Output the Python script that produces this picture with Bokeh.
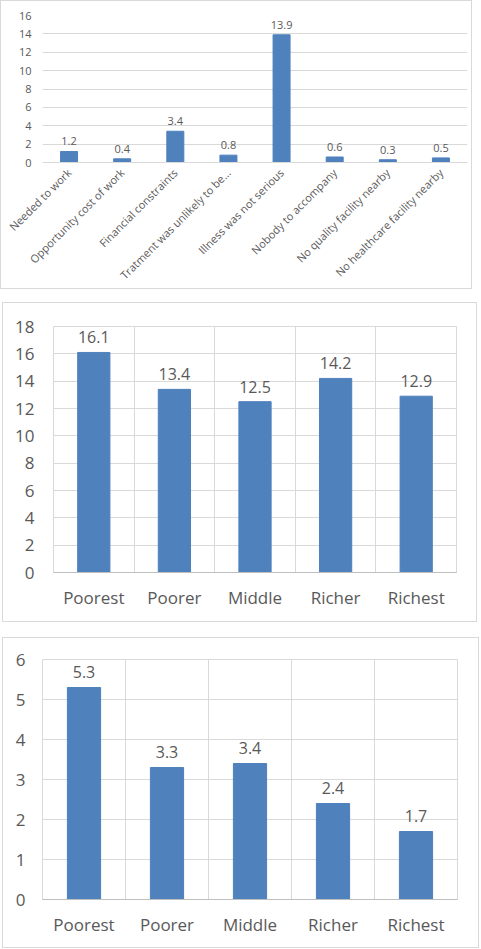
import math
from bokeh.plotting import figure
from bokeh.models import ColumnDataSource, FactorRange, Range1d, FixedTicker
from bokeh.core.properties import value
from bokeh.embed import file_html
from bokeh.resources import INLINE

# ---------------- data ----------------
reasons = [
    "Needed to work",
    "Opportunity cost of work",
    "Financial constraints",
    "Tratment was unlikely to be...",
    "Illness was not serious",
    "Nobody to accompany",
    "No quality facility nearby",
    "No healthcare facility nearby",
]
reason_values = [1.2, 0.4, 3.4, 0.8, 13.9, 0.6, 0.3, 0.5]
reason_ticks = [0, 2, 4, 6, 8, 10, 12, 14, 16]

quintiles = ["Poorest", "Poorer", "Middle", "Richer", "Richest"]
quintile_values_a = [16.1, 13.4, 12.5, 14.2, 12.9]
quintile_ticks_a = [0, 2, 4, 6, 8, 10, 12, 14, 16, 18]
quintile_values_b = [5.3, 3.3, 3.4, 2.4, 1.7]
quintile_ticks_b = [0, 1, 2, 3, 4, 5, 6]

BAR = "#4F81BD"
TXT = "#595959"
GRID = "#D9D9D9"
FONT = "Open Sans"
BORDER = {"border": "1px solid #D9D9D9", "box-sizing": "border-box"}


def clean_axis(ax, size, standoff):
    ax.major_tick_line_color = None
    ax.minor_tick_line_color = None
    ax.major_tick_out = 0
    ax.major_tick_in = 0
    ax.minor_tick_out = 0
    ax.minor_tick_in = 0
    ax.major_label_standoff = standoff
    ax.major_label_text_font = FONT
    ax.major_label_text_font_size = size
    ax.major_label_text_color = TXT


# ---------------- chart 1 ----------------
src1 = ColumnDataSource(dict(x=reasons, top=reason_values,
                             lab=[f"{v:.1f}" for v in reason_values]))
p1 = figure(x_range=FactorRange(*reasons), y_range=Range1d(0, reason_ticks[-1]),
            width=472, height=289,
            output_backend="svg", toolbar_location=None,
            min_border_left=41, min_border_right=6, min_border_top=14,
            min_border_bottom=127, styles=BORDER, margin=(0, 0, 0, 0))
p1.vbar(x="x", top="top", width=0.32, source=src1, color=BAR)
p1.text(x="x", y="top", text="lab", source=src1, text_align="center",
        text_baseline="alphabetic", y_offset=-10, text_font=value(FONT),
        text_font_size="11px", text_color=TXT)
p1.outline_line_color = None
p1.xgrid.visible = False
p1.ygrid.ticker = FixedTicker(ticks=reason_ticks)
p1.ygrid.grid_line_color = GRID
p1.yaxis.ticker = FixedTicker(ticks=reason_ticks)
p1.yaxis.axis_line_color = None
clean_axis(p1.yaxis, "11px", 11)
p1.xaxis.axis_line_color = GRID
p1.xaxis.major_label_orientation = math.pi / 4
clean_axis(p1.xaxis, "11px", 8)


# ---------------- charts 2 & 3 ----------------
def quintile_chart(vals, ticks, w, h, left, right, top, bottom,
                   label_off, ystand, margin):
    xs = [i + 0.5 for i in range(len(quintiles))]
    src = ColumnDataSource(dict(x=xs, top=vals, lab=[f"{v:.1f}" for v in vals]))
    p = figure(x_range=Range1d(0, len(quintiles)), y_range=Range1d(0, ticks[-1]),
               width=w, height=h, output_backend="svg",
               toolbar_location=None, min_border_left=left, min_border_right=right,
               min_border_top=top, min_border_bottom=bottom, styles=BORDER,
               margin=margin)
    p.vbar(x="x", top="top", width=0.4, source=src, color=BAR)
    p.text(x="x", y="top", text="lab", source=src, text_align="center",
           text_baseline="alphabetic", y_offset=-label_off, text_font=value(FONT),
           text_font_size="16px", text_color=TXT)
    p.outline_line_color = GRID
    p.xgrid.ticker = FixedTicker(ticks=list(range(len(quintiles) + 1)))
    p.xgrid.grid_line_color = GRID
    p.ygrid.ticker = FixedTicker(ticks=ticks)
    p.ygrid.grid_line_color = GRID
    p.xaxis.ticker = FixedTicker(ticks=xs)
    p.xaxis.major_label_overrides = {x: q for x, q in zip(xs, quintiles)}
    p.xaxis.axis_line_color = "#BFBFBF"
    clean_axis(p.xaxis, "17px", 13)
    p.yaxis.ticker = FixedTicker(ticks=ticks)
    p.yaxis.axis_line_color = None
    clean_axis(p.yaxis, "17px", ystand)
    return p


p2 = quintile_chart(quintile_values_a, quintile_ticks_a, 475, 320, 50, 22, 23, 51,
                    15, 19, (13, 0, 0, 2))
p3 = quintile_chart(quintile_values_b, quintile_ticks_b, 477, 311, 39, 23, 21, 50,
                    16, 17, (15, 0, 0, 2))

open("out.html", "w").write(file_html([p1, p2, p3], INLINE))
